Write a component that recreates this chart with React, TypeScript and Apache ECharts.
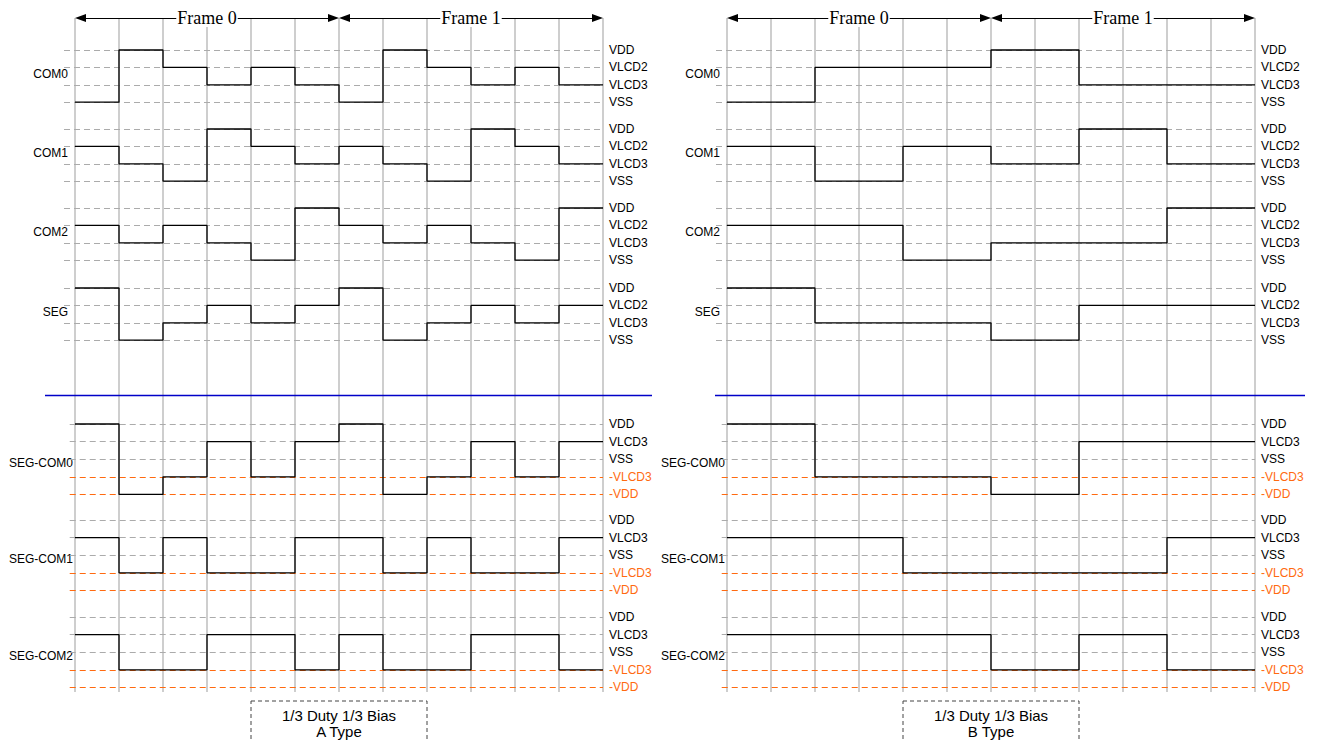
import React, { useEffect, useRef } from "react";
import * as echarts from "echarts";

// ---- data ----
const frames = ["Frame 0", "Frame 1"];
const upperLevels = ["VDD", "VLCD2", "VLCD3", "VSS"]; // value 3..0
const lowerLevels = ["VDD", "VLCD3", "VSS", "-VLCD3", "-VDD"]; // value 2..-2
const upperSignals = ["COM0", "COM1", "COM2", "SEG"];
const lowerSignals = ["SEG-COM0", "SEG-COM1", "SEG-COM2"];
const panelTitles = ["A Type", "B Type"];
const boxTitle = "1/3 Duty 1/3 Bias";

// A type: upper levels 0=VSS 1=VLCD3 2=VLCD2 3=VDD
const aCom0 = [0, 3, 2, 1, 2, 1, 0, 3, 2, 1, 2, 1];
const aCom1 = [2, 1, 0, 3, 2, 1, 2, 1, 0, 3, 2, 1];
const aCom2 = [2, 1, 2, 1, 0, 3, 2, 1, 2, 1, 0, 3];
const aSeg = [3, 0, 1, 2, 1, 2, 3, 0, 1, 2, 1, 2];
// lower levels 2=VDD 1=VLCD3 0=VSS -1=-VLCD3 -2=-VDD
const aSegCom0 = [2, -2, -1, 1, -1, 1, 2, -2, -1, 1, -1, 1];
const aSegCom1 = [1, -1, 1, -1, -1, 1, 1, -1, 1, -1, -1, 1];
const aSegCom2 = [1, -1, -1, 1, 1, -1, 1, -1, -1, 1, 1, -1];

// B type
const bCom0 = [0, 0, 2, 2, 2, 2, 3, 3, 1, 1, 1, 1];
const bCom1 = [2, 2, 0, 0, 2, 2, 1, 1, 3, 3, 1, 1];
const bCom2 = [2, 2, 2, 2, 0, 0, 1, 1, 1, 1, 3, 3];
const bSeg = [3, 3, 1, 1, 1, 1, 0, 0, 2, 2, 2, 2];
const bSegCom0 = [2, 2, -1, -1, -1, -1, -2, -2, 1, 1, 1, 1];
const bSegCom1 = [1, 1, 1, 1, -1, -1, -1, -1, -1, -1, 1, 1];
const bSegCom2 = [1, 1, 1, 1, 1, 1, -1, -1, 1, 1, -1, -1];

const panelsUpper = [
  [aCom0, aCom1, aCom2, aSeg],
  [bCom0, bCom1, bCom2, bSeg],
];
const panelsLower = [
  [aSegCom0, aSegCom1, aSegCom2],
  [bSegCom0, bSegCom1, bSegCom2],
];

// ---- layout ----
const SLOTS = 12;
const SLOT_W = 44;
const PANEL_X0 = [75, 727];
const X_MIN = -0.25;
const TOP = 18;
const BOTTOM = 692;
const upperRowTops = [50, 129, 208, 288];
const UPPER_STEP = 17.4;
const lowerRowTops = [424, 520, 617];
const LOWER_STEP = 17.6;
const LOWER_DASH_START = -0.12;
const GRAY = "#ababab";
const ORANGE = "#ff6a10";
const VGRID = "#c2c2c2";
const SANS = "'Liberation Sans', Arial, sans-serif";
const SERIF = "'Liberation Serif', 'Times New Roman', serif";
const ARROW_LEN = 11;

function wave(levels: number[], rowTop: number, step: number, maxLevel: number) {
  const pts = levels.map((l, i) => [i, rowTop + (maxLevel - l) * step]);
  pts.push([SLOTS, rowTop + (maxLevel - levels[levels.length - 1]) * step]);
  return pts;
}

export default function App() {
  const ref = useRef<HTMLDivElement>(null);
  useEffect(() => {
    if (!ref.current) return;
    const chart = echarts.init(ref.current, undefined, { renderer: "svg" });
    const grids: any[] = [];
    const xAxes: any[] = [];
    const yAxes: any[] = [];
    const series: any[] = [];
    const graphics: any[] = [];

    PANEL_X0.forEach((x0, p) => {
      grids.push({
        left: x0 + X_MIN * SLOT_W,
        width: (SLOTS - X_MIN) * SLOT_W,
        top: TOP,
        height: BOTTOM - TOP,
      });
      xAxes.push({ type: "value", gridIndex: p, min: X_MIN, max: SLOTS, show: false });
      yAxes.push({ type: "value", gridIndex: p, min: TOP, max: BOTTOM, inverse: true, show: false });

      const mlData: any[] = [];
      for (let i = 0; i <= SLOTS; i++) {
        mlData.push({ xAxis: i, lineStyle: { color: VGRID, width: 1.6, type: "solid" } });
      }
      upperRowTops.forEach((rt) => {
        upperLevels.forEach((name, k) => {
          const y = rt + k * UPPER_STEP;
          mlData.push([
            {
              coord: [X_MIN, y],
              lineStyle: { color: GRAY, width: 1.2, type: [6, 4] },
              label: { show: true, position: "end", distance: 6, formatter: name, color: "#000", fontSize: 12, fontFamily: SANS },
            },
            { coord: [SLOTS, y] },
          ]);
        });
      });
      lowerRowTops.forEach((rt) => {
        lowerLevels.forEach((name, k) => {
          const y = rt + k * LOWER_STEP;
          const neg = name.startsWith("-");
          mlData.push([
            {
              coord: [LOWER_DASH_START, y],
              lineStyle: { color: neg ? ORANGE : GRAY, width: 1.2, type: [6, 4] },
              label: { show: true, position: "end", distance: 6, formatter: name, color: neg ? ORANGE : "#000", fontSize: 12, fontFamily: SANS },
            },
            { coord: [SLOTS, y] },
          ]);
        });
      });
      const half = SLOTS / frames.length;
      const off = ARROW_LEN / 2 / SLOT_W;
      frames.forEach((f, fi) => {
        mlData.push([
          {
            coord: [fi * half + off, TOP],
            symbol: "triangle",
            symbolSize: [8, ARROW_LEN],
            lineStyle: { color: "#000", width: 1.2, type: "solid" },
          },
          { coord: [(fi + 1) * half - off, TOP], symbol: "triangle", symbolSize: [8, ARROW_LEN] },
        ]);
        graphics.push({
          type: "text",
          x: x0 + (fi * half + half / 2) * SLOT_W,
          y: TOP,
          z: 100,
          style: {
            text: f,
            fill: "#000",
            font: `18px ${SERIF}`,
            textAlign: "center",
            textVerticalAlign: "middle",
            backgroundColor: "#fff",
            padding: [0, 1],
          },
        });
      });

      series.push({
        type: "line",
        xAxisIndex: p,
        yAxisIndex: p,
        data: [],
        z: 1,
        markLine: {
          silent: true,
          z: 1,
          symbol: ["none", "none"],
          label: { show: false },
          emphasis: { disabled: true },
          data: mlData,
        },
      });

      panelsUpper[p].forEach((lv, r) => {
        series.push({
          type: "line",
          name: upperSignals[r],
          xAxisIndex: p,
          yAxisIndex: p,
          step: "end",
          showSymbol: false,
          z: 10,
          lineStyle: { color: "#000", width: 1.3 },
          data: wave(lv, upperRowTops[r], UPPER_STEP, 3),
        });
      });
      panelsLower[p].forEach((lv, r) => {
        series.push({
          type: "line",
          name: lowerSignals[r],
          xAxisIndex: p,
          yAxisIndex: p,
          step: "end",
          showSymbol: false,
          z: 10,
          lineStyle: { color: "#000", width: 1.3 },
          data: wave(lv, lowerRowTops[r], LOWER_STEP, 2),
        });
      });

      upperSignals.forEach((s, r) => {
        graphics.push({
          type: "text",
          x: x0 - 7,
          y: upperRowTops[r] + 1.4 * UPPER_STEP,
          style: { text: s, fill: "#000", font: `12px ${SANS}`, textAlign: "right", textVerticalAlign: "middle" },
        });
      });
      lowerSignals.forEach((s, r) => {
        graphics.push({
          type: "text",
          x: x0 - 2,
          y: lowerRowTops[r] + 2 * LOWER_STEP + 4,
          style: { text: s, fill: "#000", font: `12px ${SANS}`, textAlign: "right", textVerticalAlign: "middle" },
        });
      });

      const cx = x0 + (SLOTS / 2) * SLOT_W;
      graphics.push({
        type: "rect",
        shape: { x: cx - 2 * SLOT_W, y: 701, width: 4 * SLOT_W, height: 60 },
        style: { fill: "none", stroke: "#444", lineWidth: 1, lineDash: [4, 3] },
      });
      graphics.push({
        type: "text",
        x: cx,
        y: 715,
        style: { text: boxTitle, fill: "#000", font: `15px ${SANS}`, textAlign: "center", textVerticalAlign: "middle" },
      });
      graphics.push({
        type: "text",
        x: cx,
        y: 731,
        style: { text: panelTitles[p], fill: "#000", font: `15px ${SANS}`, textAlign: "center", textVerticalAlign: "middle" },
      });
    });

    graphics.push({ type: "line", z: 50, shape: { x1: 45, y1: 395.5, x2: 652, y2: 395.5 }, style: { stroke: "#0000c8", lineWidth: 1.5 } });
    graphics.push({ type: "line", z: 50, shape: { x1: 715, y1: 395.5, x2: 1305, y2: 395.5 }, style: { stroke: "#0000c8", lineWidth: 1.5 } });

    chart.setOption({
      animation: false,
      backgroundColor: "#fff",
      grid: grids,
      xAxis: xAxes,
      yAxis: yAxes,
      series,
      graphic: graphics,
    });
    return () => chart.dispose();
  }, []);
  return <div ref={ref} style={{ position: "absolute", left: 0, top: 0, width: 1320, height: 742 }} />;
}
